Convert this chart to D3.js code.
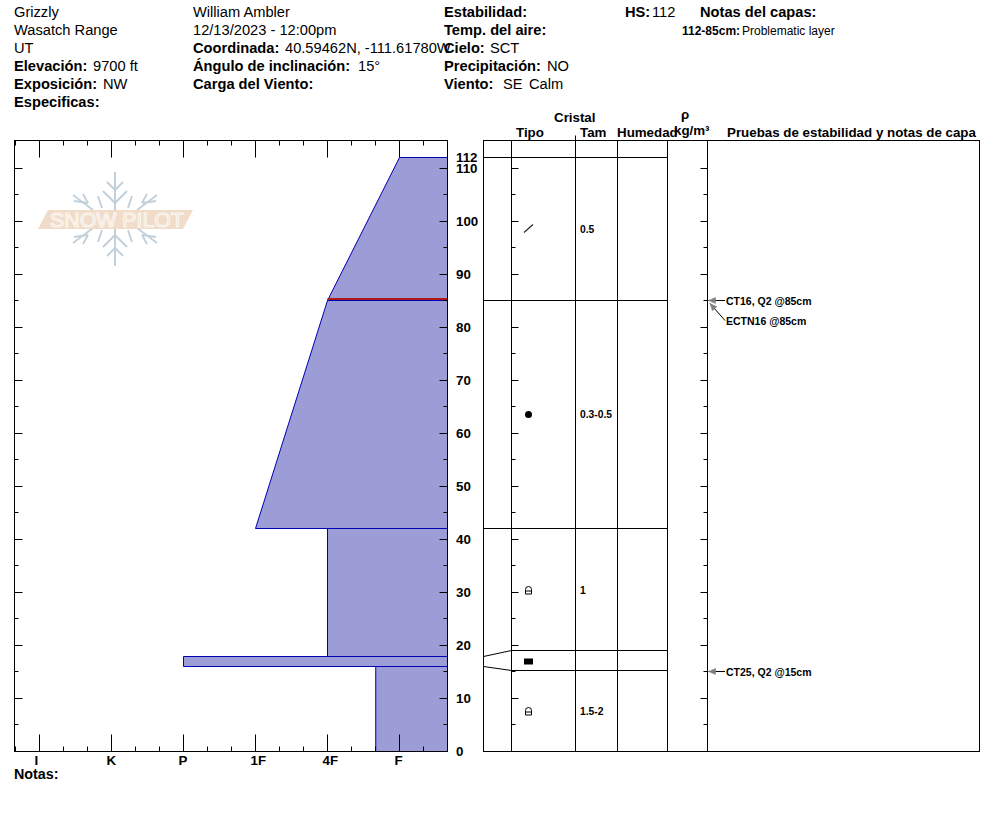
<!DOCTYPE html>
<html>
<head>
<meta charset="utf-8">
<script src="https://cdn.jsdelivr.net/npm/d3@7/dist/d3.min.js"></script>
<style>
html,body{margin:0;padding:0;background:#fff}
svg{display:block}
text{font-family:"Liberation Sans",Arial,sans-serif;fill:#000}
.axis path.domain{display:none}
.axis line{stroke:#000;stroke-width:1}
</style>
</head>
<body>
<svg id="c" width="994" height="840"></svg>
<script>
// ---------- data ----------
const hardnessLabels = ["I","K","P","1F","4F","F"];
const layerBottoms   = [0, 16, 18, 42, 85];
const layerTops      = [16, 18, 42, 85, 112];
const hardBottom     = [4.67, 2, 4, 3, 4];
const hardTop        = [4.67, 2, 4, 4, 5];
const weakLayerDepth = 85.2;

const grainBounds  = [112, 85, 42, 19, 15.2];
const grainMid     = [98.5, 63.6, 30.4, 17, 7.6];
const grainSymbols = ["slash","dot","facet","square","facet"];
const grainSizes   = ["0.5","0.3-0.5","1","","1.5-2"];

const testDepths  = [85, 85, 15];
const testLabels  = ["CT16, Q2 @85cm","ECTN16 @85cm","CT25, Q2 @15cm"];
const testLabelCm = [85, 81.2, 15];

const depthMajor = d3.range(0, 120, 10).filter(d => d <= 110);
const depthMinor = d3.range(5, 115, 10);
const depthLabels = [...depthMajor, 112];

const headerBold = ["","","","Elevación:","Exposición:","Especificas:",
  "","","Coordinada:","Ángulo de inclinación:","Carga del Viento:",
  "Estabilidad:","Temp. del aire:","Cielo:","Precipitación:","Viento:","Viento:",
  "HS:","Notas del capas:"];
const headerPlain = ["Grizzly","Wasatch Range","UT","9700 ft","NW","",
  "William Ambler","12/13/2023 - 12:00pm","40.59462N, -111.61780W","15°","",
  "","","SCT","NO","SE","Calm",
  "112",""];
const columnHeaders = ["Cristal","Tipo","Tam","Humedad","ρ","kg/m³","Pruebas de estabilidad y notas de capa"];
const noteBold = "112-85cm:";
const notePlain = "Problematic layer";

// ---------- layout ----------
const headerLayout = [ // x, baseline, plain-text x
  [14,17,14],[14,35,14],[14,53,14],[14,71,93],[14,89,103],[14,107,0],
  [193,17,193],[193,35,193],[193,53,285],[193,71,358],[193,89,0],
  [444,17,0],[444,35,0],[444,53,490],[444,71,547],[444,89,503],[444,89,529],
  [625,17,652],[700,17,0]
];
const columnLayout = [[554,122],[516,137],[580,137],[617,137],[681,119],[674,135],[727,137]];

// ---------- scales ----------
const svg = d3.select("#c");
const frame = {l:14.5, r:447.5, t:140.5, b:751.5};
const y = d3.scaleLinear().domain([0,112]).rangeRound([751,157]);
const x = d3.scaleLinear().domain([0,5]).range([39,399]);
const Y = d => y(d)+0.5, X = d => x(d)+0.5;
const hardMajor = d3.range(0,6);
const hardMinor = [-1/3,1/3,2/3,4/3,5/3,7/3,8/3,10/3,11/3,13/3,14/3,16/3];

// ---------- logo ----------
const logo = svg.append("g").attr("transform","translate(115,219)");
const flake = logo.append("g").attr("stroke","#c2d0d9").attr("stroke-width",1.9).attr("fill","none");
const segs = [[0,-47,0,0],[0,-29,-8,-37],[0,-16,-12,-28],[-42,-24,-22,-9],[-32,-25,-27,-16],[-41,-18,-27,-16],[-17,-23,-13,-11]];
[[1,1],[-1,1],[1,-1],[-1,-1]].forEach(([a,b])=>segs.forEach(s=>{
  flake.append("line").attr("x1",s[0]*a).attr("y1",s[1]*b).attr("x2",s[2]*a).attr("y2",s[3]*b);
}));
logo.append("path").attr("d","M-67,-9L78,-9L68,10L-77,10Z").attr("fill","#f0dcc9");
logo.append("text").attr("x",-65).attr("y",7.5).attr("font-size",20).attr("textLength",134)
  .attr("lengthAdjust","spacingAndGlyphs").style("fill","none").attr("stroke","#fbf6f1").attr("stroke-width",1.1).text("SNOW PILOT");

// ---------- hardness profile ----------
const clipRight = frame.r;
layerTops.forEach((top,i)=>{
  const pts = [[X(hardBottom[i]),Y(layerBottoms[i])],[X(hardTop[i]),Y(top)],[clipRight,Y(top)],[clipRight,Y(layerBottoms[i])]];
  svg.append("path").attr("d",d3.line()(pts)+"Z").attr("fill","#9c9cd6");
  const lineLeft = [[clipRight,Y(top)],[X(hardTop[i]),Y(top)],[X(hardBottom[i]),Y(layerBottoms[i])],[clipRight,Y(layerBottoms[i])]];
  svg.append("path").attr("d",d3.line()(lineLeft)).attr("fill","none").attr("stroke","#0000b4").attr("stroke-width",1);
});
svg.append("line").attr("x1",X(4)).attr("x2",clipRight).attr("y1",y(weakLayerDepth)).attr("y2",y(weakLayerDepth))
  .attr("stroke","#b01818").attr("stroke-width",2);

// ---------- axes ----------
function addAxis(ctor, scale, vals, size, tx, ty){
  svg.append("g").attr("class","axis").attr("transform",`translate(${tx},${ty})`)
    .call(ctor(scale).tickValues(vals).tickSize(size).tickFormat(""));
}
addAxis(d3.axisRight,y,depthMajor,8,frame.l,0);
addAxis(d3.axisRight,y,depthMinor,4,frame.l,0);
addAxis(d3.axisLeft,y,depthMajor,8,frame.r,0);
addAxis(d3.axisLeft,y,depthMinor,4,frame.r,0);
addAxis(d3.axisBottom,x,hardMajor,17,0,frame.t);
addAxis(d3.axisBottom,x,hardMinor,5,0,frame.t);
addAxis(d3.axisTop,x,hardMajor,17,0,frame.b);
addAxis(d3.axisTop,x,hardMinor,5,0,frame.b);
svg.append("rect").attr("x",frame.l).attr("y",frame.t).attr("width",frame.r-frame.l).attr("height",frame.b-frame.t)
  .attr("fill","none").attr("stroke","#000");

hardnessLabels.forEach((t,i)=>{
  svg.append("text").attr("x",x(i)-4.5).attr("y",765).attr("font-size",13.33).attr("font-weight","bold").text(t);
});
svg.append("text").attr("x",14).attr("y",779).attr("font-size",14.3).attr("font-weight","bold").text("Notas:");
depthLabels.forEach(d=>{
  svg.append("text").attr("x",456).attr("y",y(d)+5).attr("font-size",13.33).attr("font-weight","bold").text(d);
});

// ---------- right table ----------
const tbl = {l:483.5, r:979.5};
const cols = [511.5,575.5,617.5,667.5,707.5];
svg.append("rect").attr("x",tbl.l).attr("y",frame.t).attr("width",tbl.r-tbl.l).attr("height",frame.b-frame.t)
  .attr("fill","none").attr("stroke","#000");
cols.forEach(c=>svg.append("line").attr("x1",c).attr("x2",c).attr("y1",frame.t).attr("y2",frame.b).attr("stroke","#000"));
svg.append("line").attr("x1",575.5).attr("x2",575.5).attr("y1",135.5).attr("y2",frame.t).attr("stroke","#000");
addAxis(d3.axisRight,y,depthMajor,7,cols[0],0);
addAxis(d3.axisRight,y,depthMinor,4,cols[0],0);
addAxis(d3.axisLeft,y,depthMajor,7,cols[4],0);
addAxis(d3.axisLeft,y,depthMinor,4,cols[4],0);

grainBounds.forEach(d=>{
  const start = (d<20) ? cols[0] : tbl.l;
  svg.append("line").attr("x1",start).attr("x2",cols[3]).attr("y1",Y(d)).attr("y2",Y(d)).attr("stroke","#000");
});
// connectors between hardness layers and grain layers
[[18,19],[16,15.2]].forEach(([a,b])=>{
  svg.append("line").attr("x1",tbl.l).attr("x2",cols[0]).attr("y1",Y(a)).attr("y2",Y(b)).attr("stroke","#000");
});

// grain symbols and sizes
grainMid.forEach((d,i)=>{
  const cy = y(d), cx = 528.5;
  const s = grainSymbols[i];
  const g = svg.append("g").attr("transform",`translate(${cx},${cy+0.5-(s==="slash"?1:0)})`);
  if(s==="slash") g.append("line").attr("x1",-4.5).attr("y1",4).attr("x2",4.5).attr("y2",-4).attr("stroke","#222").attr("stroke-width",1.1);
  if(s==="dot") g.append("circle").attr("r",3.5).attr("fill","#000");
  if(s==="square") g.append("rect").attr("x",-4.5).attr("y",-3).attr("width",9).attr("height",6).attr("fill","#000");
  if(s==="facet"){
    g.append("path").attr("d","M-3,3.5L-3,-1A3,3 0 0 1 3,-1L3,3.5Z M-3,0.5L3,0.5").attr("fill","none").attr("stroke","#000");
  }
  if(grainSizes[i]) svg.append("text").attr("x",580).attr("y",cy+4).attr("font-size",10.3).attr("font-weight","bold").text(grainSizes[i]);
});

// stability tests
testDepths.forEach((d,i)=>{
  const ly = Y(testLabelCm[i]);
  const ty = Y(d);
  svg.append("text").attr("x",726).attr("y",ly+(i===2?4:4.5)).attr("font-size",10.5).attr("font-weight","bold").text(testLabels[i]);
  const tipX = i===1 ? 710 : 708.5;
  const tipY = i===1 ? ty+3 : ty;
  const endX = 725;
  const a = Math.atan2(ly-tipY,endX-tipX);
  svg.append("line").attr("x1",tipX).attr("y1",tipY).attr("x2",endX).attr("y2",ly).attr("stroke","#000");
  const h = 7,w=3;
  const bx = tipX+h*Math.cos(a), by = tipY+h*Math.sin(a);
  svg.append("path").attr("d",d3.line()([[tipX,tipY],[bx-w*Math.sin(a),by+w*Math.cos(a)],[bx+w*Math.sin(a),by-w*Math.cos(a)]])+"Z")
    .attr("fill","#808080").attr("stroke","#808080").attr("stroke-width",0.5);
});

// ---------- text ----------
headerLayout.forEach(([tx,ty,px],i)=>{
  // "Viento:" appears once; the second entry only carries its plain value
  if(headerBold[i] && !(i===16)) svg.append("text").attr("x",tx).attr("y",ty).attr("font-size",14.67).attr("font-weight","bold").text(headerBold[i]);
  if(headerPlain[i]) svg.append("text").attr("x",px).attr("y",ty).attr("font-size",14.67).text(headerPlain[i]);
});
svg.append("text").attr("x",682).attr("y",35).attr("font-size",12).attr("font-weight","bold").text(noteBold);
svg.append("text").attr("x",742).attr("y",35).attr("font-size",12).text(notePlain);
columnHeaders.forEach((t,i)=>{
  const [tx,ty]=columnLayout[i];
  svg.append("text").attr("x",tx).attr("y",ty).attr("font-size",13.33).attr("font-weight","bold").text(t);
});
</script>
</body>
</html>
